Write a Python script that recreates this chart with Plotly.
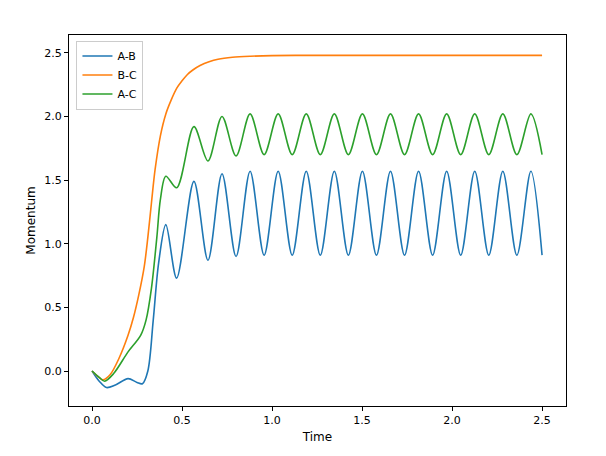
import plotly.graph_objects as go

t_ab = [0, 0.04, 0.08, 0.13, 0.2, 0.25, 0.28, 0.31, 0.34, 0.37, 0.41, 0.47, 0.566, 0.644, 0.722, 0.80, 0.878, 0.956, 1.034, 1.112, 1.19, 1.268, 1.346, 1.424, 1.502, 1.58, 1.658, 1.736, 1.814, 1.892, 1.97, 2.048, 2.126, 2.204, 2.282, 2.36, 2.438, 2.5]
ab = [0, -0.08, -0.13, -0.11, -0.06, -0.09, -0.1, 0.0, 0.4, 0.85, 1.15, 0.73, 1.49, 0.87, 1.55, 0.9, 1.57, 0.91, 1.57, 0.91, 1.57, 0.91, 1.57, 0.91, 1.57, 0.91, 1.57, 0.91, 1.57, 0.91, 1.57, 0.91, 1.57, 0.91, 1.57, 0.91, 1.57, 0.91]

t_bc = [0, 0.03, 0.06, 0.1, 0.15, 0.2, 0.23, 0.26, 0.29, 0.31, 0.33, 0.35, 0.38, 0.41, 0.44, 0.47, 0.5, 0.53, 0.56, 0.6, 0.65, 0.7, 0.78, 0.88, 1.0, 1.2, 1.5, 2.0, 2.5]
bc = [0, -0.04, -0.07, -0.03, 0.1, 0.28, 0.42, 0.6, 0.82, 1.05, 1.32, 1.58, 1.85, 2.02, 2.13, 2.22, 2.28, 2.33, 2.365, 2.4, 2.43, 2.45, 2.465, 2.473, 2.478, 2.48, 2.48, 2.48, 2.48]

t_ac = [0, 0.04, 0.07, 0.12, 0.2, 0.27, 0.3, 0.33, 0.36, 0.38, 0.41, 0.47, 0.566, 0.644, 0.722, 0.80, 0.878, 0.956, 1.034, 1.112, 1.19, 1.268, 1.346, 1.424, 1.502, 1.58, 1.658, 1.736, 1.814, 1.892, 1.97, 2.048, 2.126, 2.204, 2.282, 2.36, 2.438, 2.5]
ac = [0, -0.05, -0.08, -0.02, 0.15, 0.28, 0.4, 0.65, 1.05, 1.35, 1.53, 1.44, 1.92, 1.65, 2.0, 1.69, 2.02, 1.7, 2.02, 1.7, 2.02, 1.7, 2.02, 1.7, 2.02, 1.7, 2.02, 1.7, 2.02, 1.7, 2.02, 1.7, 2.02, 1.7, 2.02, 1.7, 2.02, 1.7]

fig = go.Figure()
for name, x, y, c in [("A-B", t_ab, ab, "#1f77b4"), ("B-C", t_bc, bc, "#ff7f0e"), ("A-C", t_ac, ac, "#2ca02c")]:
    fig.add_trace(go.Scatter(x=x, y=y, name=name, mode="lines",
                             line=dict(color=c, width=1.6, shape="spline", smoothing=0.9)))

ax = dict(showgrid=False, zeroline=False, showline=True, linecolor="black", mirror=True,
          ticks="outside", ticklen=4, tickcolor="black", tickfont=dict(size=11, color="black"),
          automargin=False)
fig.update_layout(
    width=606, height=456, plot_bgcolor="white", paper_bgcolor="white",
    margin=dict(l=61, r=48, t=27, b=58),
    font=dict(family="DejaVu Sans", color="black"),
    xaxis=dict(ax, range=[-0.128, 2.633], tickvals=[0, 0.5, 1, 1.5, 2, 2.5],
               ticktext=["0.0", "0.5", "1.0", "1.5", "2.0", "2.5"],
               title=dict(text="Time", font=dict(size=12), standoff=6)),
    yaxis=dict(ax, range=[-0.275, 2.64], tickvals=[0, 0.5, 1, 1.5, 2, 2.5],
               ticktext=["0.0", "0.5", "1.0", "1.5", "2.0", "2.5"],
               title=dict(text="Momentum", font=dict(size=12), standoff=6)),
    legend=dict(x=0.015, y=0.985, xanchor="left", yanchor="top", bgcolor="white",
                bordercolor="#cccccc", borderwidth=1, font=dict(size=11)),
)
fig.write_html("out.html")
